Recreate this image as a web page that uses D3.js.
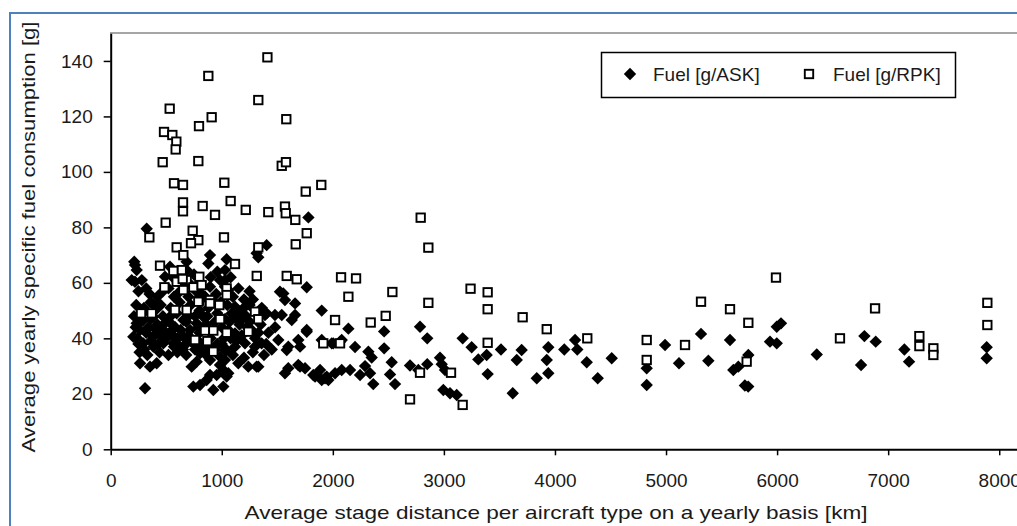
<!DOCTYPE html>
<html>
<head>
<meta charset="utf-8">
<script src="https://cdn.jsdelivr.net/npm/d3@7"></script>
<style>
  body { margin: 0; background: #fff; }
  svg { display: block; font-family: "Liberation Sans", Arial, sans-serif; }
</style>
</head>
<body>
<svg id="chart" width="1017" height="526"></svg>
<script>
// Fuel [g/ASK] - filled diamonds  [distance km, fuel g]
var askPoints = [
  [324,79.5],[212,67.6],[219,66.4],[234,64.6],[189,61],[219,60.4],[894,70],[879,67],[1044,68.5],[1029,64.6],
  [684,67.6],[684,64.6],[534,65.8],[489,62.2],[984,61],[1029,58.6],[894,58.6],[1404,73.6],[1314,70.7],[1329,69.2],
  [1780,83.6],[1765,58.4],[1524,56.8],[1569,53.8],[1660,52.6],[1900,50],[1029,61],[1059,57.4],[1119,51.4],[1209,51.4],
  [1389,48.4],[1479,48.4],[1660,48.4],[1089,49],[1209,48.4],[1329,49],[1540,48.4],[1630,46.6],[1119,41.8],[1269,43],
  [1029,35.8],[1119,37],[1209,38.2],[1299,37],[1359,38.2],[1509,39.4],[1599,37],[1689,39.4],[1765,43],[1149,31],
  [1239,29.8],[1329,29.8],[1029,32.2],[1059,27.4],[1569,27.4],[1599,29.2],[1689,30.4],[1750,29.2],[1840,26.2],[1930,25.6],
  [2020,27.4],[2080,28.6],[1900,39.4],[1990,38.2],[2080,39.4],
  [264,31],[354,29.8],[414,31],[309,22],[774,31.6],[729,29.8],[744,22.6],[804,23.2],[864,25],[954,26.8],
  [1014,28.6],[924,21.4],[894,26.8],[984,30.4],
  [234,45.4],[204,40.6],[264,43],[294,38.2],[384,40.6],[384,37],[474,43],[474,38.2],[564,38.2],[624,37],
  [684,38.2],[534,47.8],[594,49],[654,46.6],[714,43],[774,45.4],[834,47.8],[294,46.6],[384,47.8],[654,40.6],
  [744,38.2],[834,37],[804,34.6],[894,32.2],[984,33.4],[1044,35.8],[1044,26.2],[1014,22.6],
  [1314,29.8],[1404,49],[1554,56.2],[1585,35.8],[1705,37],[1765,42.4],[1705,29.8],[1824,26.8],[1945,26.2],
  [250,57],[320,58],[420,55],[520,58],[600,56],[700,55],[770,57],[850,55],[950,56],[1100,55],[1200,54],
  [230,52],[300,51],[360,53],[450,52],[540,51],[620,53],[720,52],[800,50],[880,51],[960,49],[1050,52],[1150,50],[1250,52],
  [210,48],[270,46],[340,44],[420,45],[500,46],[580,44],[680,46],[760,48],[860,45],[940,46],[1000,44],[1160,45],[1250,46],[1350,45],
  [240,40],[320,42],[450,41],[530,42],[600,40],[700,41],[800,42],[900,40],[960,38],[1080,40],[1180,41],[1300,40],[1420,42],
  [260,35],[330,34],[440,35],[520,34],[600,35],[680,34],[760,36],[860,34],[940,36],[1100,34],[1200,33],[1280,35],[1380,34],[1450,36],
  [560,62],[620,60],[750,63],[800,60],[900,62],[960,64],[1080,62],[1150,58],[1250,57],
  [280,61],[350,56],[390,52],[470,57],[570,55],[650,58],[730,59],[820,56],[910,54],[990,53],[1070,46],[1180,47],
  [225,44],[290,49],[360,47],[410,43],[470,48],[550,45],[630,43],[700,48],[790,44],[870,48],[920,43],[1020,40],
  [250,38],[300,36],[360,39],[430,38],[500,40],[570,37],[650,36],[720,39],[790,39],[880,37],[1000,38],[1060,43],
  [1130,39],[1230,44],[1330,42],[1400,38],[1480,44],[1280,54],[1360,51],[1130,47],[1030,47],[560,41],[400,50],
  [2140,43.5],[2200,36.9],[2320,35.2],[2350,33.1],[2462,42.5],[2462,36.4],[2530,31.4],[1885,28.6],[2155,28.6],[2290,30],
  [1900,25],[1960,25],[2245,26.8],[2335,27.4],[2364,23.5],[2515,27],[2560,23.5],[2004,38.2],[2065,38.8],
  [2785,44.2],[2850,40],[2695,30.2],[2770,28.6],[2850,30.7],[2965,33],[2980,30.7],[3010,28.6],[2995,21.4],[3055,20.2],
  [3115,19.6],[3169,40],[3250,36.8],[3310,32.4],[3385,34],[3394,27.1],[3514,36],[3620,20.2],[3656,32.2],[3700,35.8],
  [3836,25.6],[3926,32.2],[3940,27.4],[3940,36.8],[4084,36],[4181,39.4],[4201,36],[4286,31.4],[4385,25.6],[4511,32.8],
  [4826,29.2],[4826,23.2],[4991,37.6],[5117,31],
  [5315,41.6],[5381,31.9],[5576,39.4],[5606,28.6],[5651,29.8],[5710,23],[5740,22.6],[5741,34],[5936,38.8],[5997,38.2],
  [5997,44.2],[6035,45.4],[6357,34.2],[6756,30.4],[6786,40.8],[6888,38.8],[7146,36],[7188,31.6],[7887,36.8],[7887,32.8]
];

// Fuel [g/RPK] - open squares
var rpkPoints = [
  [1411,141.3],[879,134.6],[531,122.8],[1329,125.9],[909,119.7],[795,116.5],[1581,119],[480,114.4],[555,113.3],[591,110.9],
  [585,108.1],[468,103.5],[789,103.9],[1540,102.2],[1578,103.5],[570,95.9],[651,95.3],[1023,96.1],[1896,95.3],[1756,92.9],
  [651,89],[651,85.8],[828,87.7],[939,84.5],[1080,89.5],[1216,86.3],[1419,85.5],[1569,87.5],[1576,85.1],[1662,82.7],
  [495,81.7],[348,76.4],[738,78.8],[789,75.4],[594,72.8],[1020,76.4],[1329,72.8],[1765,77.9],[1666,73.9],[723,74.3],
  [654,70],[444,66.2],[639,64.6],[594,60.4],[684,61],[798,62.2],[483,58.4],[654,57.4],[744,58.4],[819,59.2],
  [798,53.6],[894,53.8],[273,49],[369,49],[579,50.2],[684,50.2],[894,52.6],[978,52],[1119,66.8],[1315,62.5],
  [564,64.3],[1044,58],[1044,55.6],[789,53.2],[984,46.9],[1299,49.6],[1329,46.9],[1585,62.5],[1675,61.3],[2020,46.6],
  [759,39.4],[870,39],[849,42.8],[924,42.8],[1044,42],[1239,42.4],[924,35.2],[1914,38.2],[648,61.4],[2074,62],
  [2209,61.6],[2140,55],[2536,56.7],[2791,83.5],[2860,72.7],[2860,52.8],[3240,57.9],[2341,45.7],[2476,48.1],[2065,38.2],
  [2785,27.6],[3064,27.6],[2695,18],[3169,16],[3394,56.6],[3394,50.5],[3709,47.6],[3926,43.3],[4291,40],[4826,39.4],
  [4826,32.2],[3394,38.4],[5171,37.6],[5315,53.2],[5576,50.5],[5741,45.6],[5726,31.6],[5990,61.9],[6566,40],[6882,50.8],
  [7281,40.8],[7281,37.2],[7407,36.4],[7407,34],[7893,52.8],[7893,44.8]
];

var xTicks = [0, 1000, 2000, 3000, 4000, 5000, 6000, 7000, 8000];
var yTicks = [0, 20, 40, 60, 80, 100, 120, 140];
var seriesNames = ["Fuel [g/ASK]", "Fuel [g/RPK]"];
var xTitle = "Average stage distance per aircraft type on a yearly basis [km]";
var yTitle = "Average yearly specific fuel consumption [g]";

var svg = d3.select("#chart");

// frame round the picture (cropped on right and bottom)
svg.append("path").attr("d", "M10,526 V13 H1017").attr("fill", "none")
  .attr("stroke", "#4f81bd").attr("stroke-width", 2);

var x = d3.scaleLinear().domain([0, 8160]).range([110.7, 1017]);
var y = d3.scaleLinear().domain([0, 150]).range([449.3, 33.2]);

// gray top border of plot area
svg.append("line").attr("x1", 110).attr("x2", 1017).attr("y1", 33).attr("y2", 33)
  .attr("stroke", "#a6a6a6").attr("stroke-width", 2);

var diamond = "M0,-6.2L6.2,0L0,6.2L-6.2,0Z";

// ASK diamonds
svg.append("g").selectAll("path").data(askPoints).enter().append("path")
  .attr("d", diamond)
  .attr("transform", function(d) { return "translate(" + x(d[0]) + "," + y(d[1]) + ")"; })
  .attr("fill", "#000");

// RPK squares on top
svg.append("g").selectAll("rect").data(rpkPoints).enter().append("rect")
  .attr("x", function(d) { return x(d[0]) - 4.2; })
  .attr("y", function(d) { return y(d[1]) - 4.2; })
  .attr("width", 8.4).attr("height", 8.4)
  .attr("fill", "#fff").attr("stroke", "#000").attr("stroke-width", 1.9);

// axes
var xAxis = svg.append("g").attr("transform", "translate(0," + y(0) + ")")
  .call(d3.axisBottom(x).tickValues(xTicks).tickFormat(d3.format("d"))
    .tickSize(6).tickSizeOuter(0).tickPadding(18));
var yAxis = svg.append("g").attr("transform", "translate(" + x(0) + ",0)")
  .call(d3.axisLeft(y).tickValues(yTicks).tickFormat(d3.format("d"))
    .tickSize(7).tickSizeOuter(0).tickPadding(11));

[xAxis, yAxis].forEach(function(a) {
  a.select(".domain").attr("stroke", "#000").attr("stroke-width", 2);
  a.selectAll(".tick line").attr("stroke", "#000").attr("stroke-width", 1.5);
  a.selectAll(".tick text").attr("fill", "#1a1a1a")
    .style("font-family", "'Liberation Sans', Arial, sans-serif").style("font-size", "19px");
});

// axis titles
svg.append("text").attr("x", 556).attr("y", 519).attr("text-anchor", "middle")
  .attr("textLength", 623).attr("lengthAdjust", "spacingAndGlyphs")
  .style("font-size", "19px").attr("fill", "#1a1a1a").text(xTitle);
svg.append("text").attr("transform", "translate(35,237) rotate(-90)").attr("text-anchor", "middle")
  .attr("textLength", 431).attr("lengthAdjust", "spacingAndGlyphs")
  .style("font-size", "19px").attr("fill", "#1a1a1a").text(yTitle);

// legend
var legend = svg.append("g");
legend.append("rect").attr("x", 601.5).attr("y", 52.5).attr("width", 354).attr("height", 45)
  .attr("fill", "#fff").attr("stroke", "#000").attr("stroke-width", 1.5);
legend.append("path").attr("d", diamond).attr("transform", "translate(630,74)").attr("fill", "#000");
legend.append("text").attr("x", 653).attr("y", 81).style("font-size", "19px").attr("fill", "#1a1a1a").text(seriesNames[0]);
legend.append("rect").attr("x", 804.8).attr("y", 69.8).attr("width", 8.4).attr("height", 8.4)
  .attr("fill", "#fff").attr("stroke", "#000").attr("stroke-width", 1.9);
legend.append("text").attr("x", 833).attr("y", 81).style("font-size", "19px").attr("fill", "#1a1a1a").text(seriesNames[1]);
</script>
</body>
</html>
